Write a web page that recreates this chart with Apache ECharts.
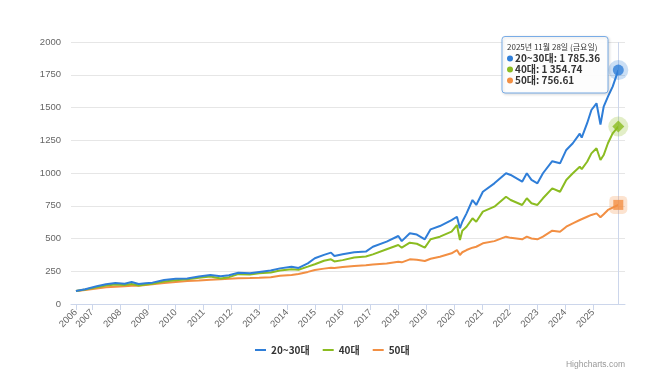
<!DOCTYPE html>
<html>
<head>
<meta charset="utf-8">
<script src="https://cdn.jsdelivr.net/npm/echarts@6/dist/echarts.min.js"></script>
<style>
html,body{margin:0;padding:0;background:#fff;}
#c{width:653px;height:371px;}
</style>
</head>
<body>
<div id="c"></div>
<script>
// ---- data ----
const seriesNames = ['20~30대', '40대', '50대'];
const dates = [
 '2006-06-01','2006-10-01','2007-03-01','2007-07-01','2007-11-01','2008-03-01','2008-06-01','2008-09-01','2008-12-01','2009-03-01',
 '2009-08-01','2010-01-01','2010-06-01','2010-11-01','2011-04-01','2011-08-15','2011-12-01','2012-04-01','2012-09-01','2013-01-01',
 '2013-06-01','2013-10-01','2014-03-01','2014-06-01','2014-10-01','2015-01-01','2015-05-01','2015-08-01','2015-09-15','2016-01-01',
 '2016-06-01','2016-11-01','2017-02-01','2017-08-01','2018-01-01','2018-02-15','2018-06-01','2018-09-01','2018-12-15','2019-03-01',
 '2019-07-01','2019-12-01','2020-02-10','2020-03-20','2020-04-20','2020-06-15','2020-09-01','2020-10-20','2021-01-15','2021-06-15',
 '2021-11-15','2022-01-15','2022-06-15','2022-08-15','2022-10-15','2023-01-01','2023-03-15','2023-07-15','2023-10-25','2024-01-15',
 '2024-04-10','2024-07-10','2024-08-05','2024-10-15','2024-12-10','2025-02-15','2025-04-08','2025-05-20','2025-07-15','2025-09-15',
 '2025-11-28'
];
const age2030 = [
 100,112,135,150,160,155,168,153,158,163,
 183,192,195,210,222,212,220,238,234,245,
 255,272,285,275,310,349,375,392,366,380,
 395,400,437,476,519,480,540,530,494,570,
 595,641,666,578,628,692,794,756,857,921,
 998,985,934,998,947,921,998,1090,1074,1176,
 1227,1300,1270,1380,1481,1532,1370,1506,1583,1659,
 1785.36
];
const age40 = [
 100,110,128,142,148,145,152,142,148,155,
 172,182,188,200,210,195,205,228,225,235,
 240,255,265,262,285,303,330,341,325,335,
 355,362,379,418,450,430,468,460,430,494,
 514,552,603,489,560,590,654,628,705,743,
 819,794,756,807,769,756,807,883,857,947,
 998,1048,1030,1086,1150,1189,1099,1137,1227,1303,
 1354.74
];
const age50 = [
 100,106,118,127,132,136,139,140,145,150,
 160,168,175,180,186,188,192,196,198,200,
 205,215,222,229,245,260,270,277,275,282,
 290,296,302,310,322,318,341,338,328,345,
 361,387,412,374,395,412,430,437,463,480,
 514,505,494,514,500,494,514,560,552,590,
 616,641,640,666,680,692,662,685,718,735,
 756.61
];
const yTicks = [0,250,500,750,1000,1250,1500,1750,2000];
const xTickDates = ['2006-06-01','2007-01-01','2008-01-01','2009-01-01','2010-01-01','2011-01-01','2012-01-01','2013-01-01',
 '2014-01-01','2015-01-01','2016-01-01','2017-01-01','2018-01-01','2019-01-01','2020-01-01','2021-01-01','2022-01-01',
 '2023-01-01','2024-01-01','2025-01-01'];
const tooltipHeader = '2025년 11월 28일 (금요일)';
const colors = ['#2f7ed8', '#8bbc21', '#f28f43'];

// ---- build ----
function ts(s){ const p = s.split('-').map(Number); return Date.UTC(p[0], p[1]-1, p[2]); }
const DAY = 86400000;
const xs = dates.map(ts);
const allVals = [age2030, age40, age50];
const lastT = xs[xs.length-1];
function fmt(v){
  const s = v.toFixed(2); const [i,d] = s.split('.');
  return i.replace(/\B(?=(\d{3})+(?!\d))/g, ' ') + '.' + d;
}

const series = [];
allVals.forEach((vals, k) => {
  const s = {
    name: seriesNames[k], type: 'line', showSymbol: false, symbol: 'none',
    data: xs.map((t,i) => [t, vals[i]]),
    lineStyle: { width: 2, color: colors[k] }, itemStyle: { color: colors[k] },
    z: 3 - k, silent: true
  };
  if (k === 0) s.markLine = { silent: true, symbol: 'none', label: { show: false },
      lineStyle: { color: '#ccd6eb', width: 1, type: 'solid' }, data: [{ xAxis: lastT }] };
  series.push(s);
});
const markerSym = ['circle', 'diamond', 'rect'];
const haloSym = ['circle', 'circle', 'roundRect'];
allVals.forEach((vals, k) => {
  const last = vals[vals.length-1];
  series.push({ type: 'scatter', silent: true, symbol: haloSym[k], symbolSize: k === 2 ? 18 : 20,
    data: [[lastT, last]], itemStyle: { color: colors[k], opacity: 0.25 }, z: 5 });
  series.push({ type: 'scatter', silent: true, symbol: markerSym[k], symbolSize: k === 1 ? 12 : (k === 2 ? 10 : 11),
    data: [[lastT, last]], itemStyle: { color: colors[k] }, z: 6 });
});

const font = '"Noto Sans CJK KR", "Liberation Sans", sans-serif';
const chart = echarts.init(document.getElementById('c'), null, { renderer: 'canvas' });
chart.setOption({
  animation: false,
  backgroundColor: '#ffffff',
  grid: { left: 71, right: 28, top: 42, bottom: 67, containLabel: false },
  xAxis: {
    type: 'value',
    min: ts('2006-06-01') - 65 * DAY,
    max: lastT + 88 * DAY,
    axisLine: { show: true, lineStyle: { color: '#ccd6eb', width: 1 } },
    axisTick: { show: true, length: 6, lineStyle: { color: '#ccd6eb' }, customValues: xTickDates.map(ts) },
    axisLabel: {
      customValues: xTickDates.map(ts), rotate: 45, margin: 7, color: '#666666', fontSize: 9.5,
      fontFamily: '"Liberation Sans", sans-serif',
      formatter: v => String(new Date(v).getUTCFullYear())
    },
    splitLine: { show: false }
  },
  yAxis: {
    type: 'value', min: yTicks[0], max: yTicks[yTicks.length-1], interval: 250,
    axisLine: { show: false }, axisTick: { show: false },
    axisLabel: { color: '#666666', fontSize: 9.5, margin: 10, fontFamily: '"Liberation Sans", sans-serif',
      formatter: v => String(v) },
    splitLine: { lineStyle: { color: '#e6e6e6', width: 1 } }
  },
  legend: {
    data: seriesNames.map((n,k) => ({ name: n, icon: 'rect', itemStyle: { color: colors[k] } })),
    left: 255, top: 345, padding: 0, itemWidth: 11, itemHeight: 2, itemGap: 13,
    textStyle: { color: '#333333', fontSize: 10, fontWeight: 'bold', fontFamily: font },
    selectedMode: false
  },
  graphic: [
    { type: 'rect', shape: { x: 502, y: 36.5, width: 106, height: 56.5, r: 3 }, z: 100,
      style: { fill: 'rgba(255,255,255,0.95)', stroke: '#79ace6', lineWidth: 1,
        shadowBlur: 3, shadowOffsetX: 1, shadowOffsetY: 1, shadowColor: 'rgba(0,0,0,0.15)' } },
    { type: 'text', x: 507, y: 47, z: 101,
      style: { text: tooltipHeader, fill: '#333333', fontSize: 8, fontFamily: font, verticalAlign: 'middle' } },
    ...seriesNames.flatMap((n,k) => {
      const v = allVals[k][allVals[k].length-1];
      return [
        { type: 'circle', shape: { cx: 510, cy: 58.5 + k * 11, r: 3 }, z: 101, style: { fill: colors[k] } },
        { type: 'text', x: 515, y: 58.5 + k * 11, z: 101,
          style: { text: n + ': ' + fmt(v), fill: '#333333', fontSize: 10, fontWeight: 'bold', fontFamily: font, verticalAlign: 'middle' } }
      ];
    }),
    { type: 'text', right: 28, top: 360, z: 101,
      style: { text: 'Highcharts.com', fill: '#999999', fontSize: 8.5, fontFamily: '"Liberation Sans", sans-serif' } }
  ],
  series: series
});
</script>
</body>
</html>
